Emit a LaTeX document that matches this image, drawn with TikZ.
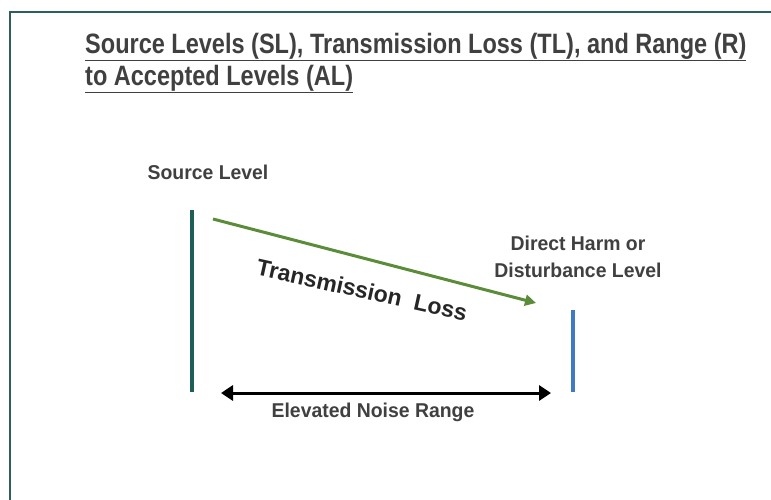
\documentclass[tikz,border=0pt]{standalone}
\usepackage{fontspec}
\setmainfont{Liberation Sans}
\newfontfamily\titlefont[FakeStretch=0.84]{Liberation Sans}
\newfontfamily\lblfont[FakeStretch=0.97]{Liberation Sans}
\usetikzlibrary{arrows.meta}
\definecolor{frameC}{HTML}{2F5E5E}
\definecolor{tealbar}{HTML}{1E5E58}
\definecolor{bluebar}{HTML}{3D7CC4}
\definecolor{arrowgreen}{HTML}{5B8C3A}
\definecolor{txtgray}{HTML}{404040}
\tikzset{
  lbl/.style={font=\lblfont\bfseries\fontsize{20}{24}\selectfont, text=txtgray, align=center, inner sep=0pt},
  titletxt/.style={font=\titlefont\bfseries\fontsize{28}{33}\selectfont, text=txtgray, anchor=west, inner sep=0pt},
  bar/.style={line width=4pt},
}
\begin{document}
\begin{tikzpicture}[x=1pt,y=-1pt]
\useasboundingbox (0,0) rectangle (771,500);
\fill[white] (0,0) rectangle (771,500);
% frame
\draw[frameC, line width=2pt] (10,500) -- (10,12) -- (771,12);
% title
\node[titletxt] (t1) at (85,47) {\underline{Source Levels (SL), Transmission Loss (TL), and Range (R)}};
\node[titletxt] (t2) at (85,79) {\underline{to Accepted Levels (AL)}};
% source level
\node[lbl] (sl) at (208,172) {Source Level};
\coordinate (s1) at (192,210);
\coordinate (s2) at (192,392);
\draw[bar, tealbar] (s1) -- (s2);
% direct harm
\node[lbl] (dh) at (578,257) {Direct Harm or\\[3pt]Disturbance Level};
\coordinate (d1) at (573,310);
\coordinate (d2) at (573,392);
\draw[bar, bluebar] (d1) -- (d2);
% transmission loss
\coordinate (ta) at (213,219);
\coordinate (tb) at (536,303);
\draw[arrowgreen, line width=3pt, -{Triangle[length=11pt,width=11pt]}] (ta) -- (tb);
\node[font=\bfseries\fontsize{23}{24}\selectfont, text=black!85, rotate=-12.5] (tl) at (362,290) {Transmission\ \ Loss};
% range
\coordinate (ra) at (221,393);
\coordinate (rb) at (551,393);
\draw[black, line width=3pt, {Triangle[length=12pt,width=15pt]}-{Triangle[length=12pt,width=15pt]}] (ra) -- (rb);
\node[lbl] (nr) at (373,412) {Elevated Noise Range};
\end{tikzpicture}
\end{document}
